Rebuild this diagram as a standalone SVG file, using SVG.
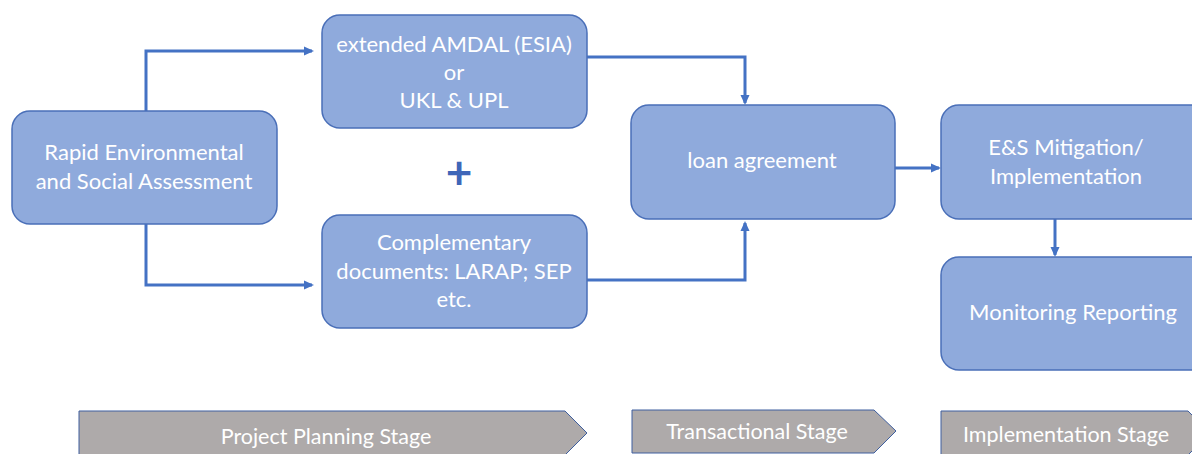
<svg xmlns="http://www.w3.org/2000/svg" width="1192" height="454" viewBox="0 0 1192 454">
<defs>
<style>
.node{fill:#8faadc;stroke:#4a6fb8;stroke-width:1.5}
.t{font-family:Lato,"Open Sans","Liberation Sans",sans-serif;font-size:22px;fill:#ffffff;text-anchor:middle}
.st{font-family:Lato,"Open Sans","Liberation Sans",sans-serif;font-size:21.5px;fill:#ffffff;text-anchor:middle}
.stage{fill:#aeaaaa;stroke:#3f5f9f;stroke-width:1}
.c{fill:none;stroke:#4472c4;stroke-width:3}
</style>
<marker id="ah" markerWidth="10" markerHeight="10" refX="8" refY="5" orient="auto" markerUnits="userSpaceOnUse" viewBox="0 0 10 10">
<path d="M0,0.5 L10,5 L0,9.5 Z" fill="#4472c4"/>
</marker>
</defs>
<rect width="1192" height="454" fill="#ffffff"/>
<g id="connectors">
<path class="c" d="M146,111 V51 H312" marker-end="url(#ah)"/>
<path class="c" d="M146,224 V285 H312" marker-end="url(#ah)"/>
<path class="c" d="M587,57 H745 V103" marker-end="url(#ah)"/>
<path class="c" d="M587,280 H745 V223" marker-end="url(#ah)"/>
<path class="c" d="M895,168 H939" marker-end="url(#ah)"/>
<path class="c" d="M1055,208 V255" marker-end="url(#ah)"/>
</g>
<g id="rapid">
<rect class="node" x="12" y="111" width="265" height="113" rx="18"/>
<text class="t" x="144" y="160">Rapid Environmental</text>
<text class="t" x="144" y="189">and Social Assessment</text>
</g>
<g id="amdal">
<rect class="node" x="322" y="15" width="265" height="113" rx="18"/>
<text class="t" x="454" y="52">extended AMDAL (ESIA)</text>
<text class="t" x="454" y="80">or</text>
<text class="t" x="454" y="108">UKL &amp; UPL</text>
</g>
<g id="plus">
<text x="459" y="189" font-family="Lato,'Liberation Sans',sans-serif" font-size="46" font-weight="bold" fill="#3f66b8" text-anchor="middle">+</text>
</g>
<g id="complementary">
<rect class="node" x="322" y="215" width="265" height="113" rx="18"/>
<text class="t" x="454" y="250">Complementary</text>
<text class="t" x="454" y="279">documents: LARAP; SEP</text>
<text class="t" x="454" y="307">etc.</text>
</g>
<g id="loan">
<rect class="node" x="631" y="105" width="264" height="114" rx="18"/>
<text class="t" x="762" y="168">loan agreement</text>
</g>
<g id="mitigation">
<rect class="node" x="941" y="105" width="270" height="114" rx="18"/>
<text class="t" x="1066" y="155">E&amp;S Mitigation/</text>
<text class="t" x="1066" y="184">Implementation</text>
</g>
<g id="monitoring">
<rect class="node" x="941" y="257" width="270" height="113" rx="18"/>
<text class="t" x="1073" y="320">Monitoring Reporting</text>
</g>
<g id="stage-planning">
<path class="stage" d="M79,411 H565 L587,433 L565,455 H79 Z"/>
<text class="st" x="326" y="444">Project Planning Stage</text>
</g>
<g id="stage-transactional">
<path class="stage" d="M632,410 H874 L896,431 L874,453 H632 Z"/>
<text class="st" x="757" y="439">Transactional Stage</text>
</g>
<g id="stage-implementation">
<path class="stage" d="M941,411 H1188 L1210,433 L1188,455 H941 Z"/>
<text class="st" x="1066" y="442">Implementation Stage</text>
</g>
</svg>
